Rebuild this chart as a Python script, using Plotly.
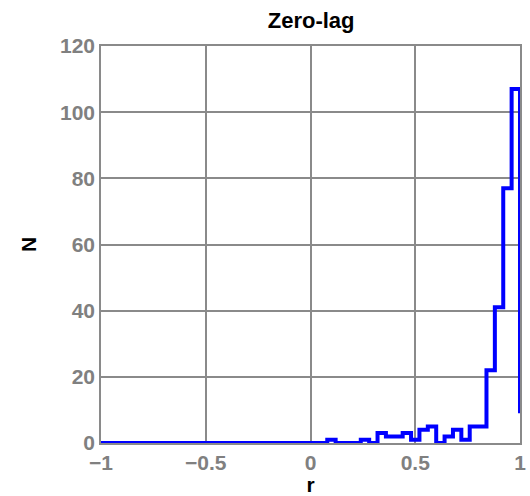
import plotly.graph_objects as go

# Histogram of correlation coefficients r, 50 bins of width 0.04 on [-1, 1]
bin_left = [round(-1 + 0.04 * i, 2) for i in range(50)]
counts = [0] * 27 + [1, 0, 0, 0, 1, 0, 3, 2, 2, 3, 1, 4, 5, 0, 2, 4, 1, 5, 5,
                     22, 41, 77, 107]
# samples with r exactly equal to 1 (last histc bin)
count_at_one = 9

x_ticks = [-1, -0.5, 0, 0.5, 1]
x_tick_text = ["\u22121", "\u22120.5", "0", "0.5", "1"]
y_ticks = [0, 20, 40, 60, 80, 100, 120]

xs = bin_left + [1.0]
ys = counts + [count_at_one]

FONT = "Liberation Sans, Arial, sans-serif"
GRID = "#8a8a8a"

fig = go.Figure(
    go.Scatter(
        x=xs, y=ys, mode="lines",
        line=dict(color="#0000ff", width=4, shape="hv"),
        hoverinfo="skip",
    )
)

axis_common = dict(
    showgrid=True, gridcolor=GRID, gridwidth=1.5,
    showline=True, linecolor=GRID, linewidth=1.5, mirror=True,
    zeroline=False, ticks="", automargin=False,
    tickfont=dict(family=FONT, size=21, color="#808080", weight="bold"),
)

fig.update_layout(
    width=530, height=496,
    margin=dict(l=101, r=10, t=46, b=53),
    paper_bgcolor="white", plot_bgcolor="white",
    showlegend=False,
    title=dict(
        text="Zero-lag", x=0.587, xanchor="center",
        y=1 - 20 / 496, yanchor="middle", yref="container",
        font=dict(family=FONT, size=22, color="black", weight="bold"),
    ),
    xaxis=dict(
        range=[-1, 1], tickvals=x_ticks, ticktext=x_tick_text,
        title=dict(text="r", standoff=9,
                   font=dict(family=FONT, size=21, color="black", weight="bold")),
        **axis_common,
    ),
    yaxis=dict(
        range=[0, 120], tickvals=y_ticks,
        title=dict(text="N", standoff=18,
                   font=dict(family=FONT, size=21, color="black", weight="bold")),
        **axis_common,
    ),
)

fig.write_html("out.html")
